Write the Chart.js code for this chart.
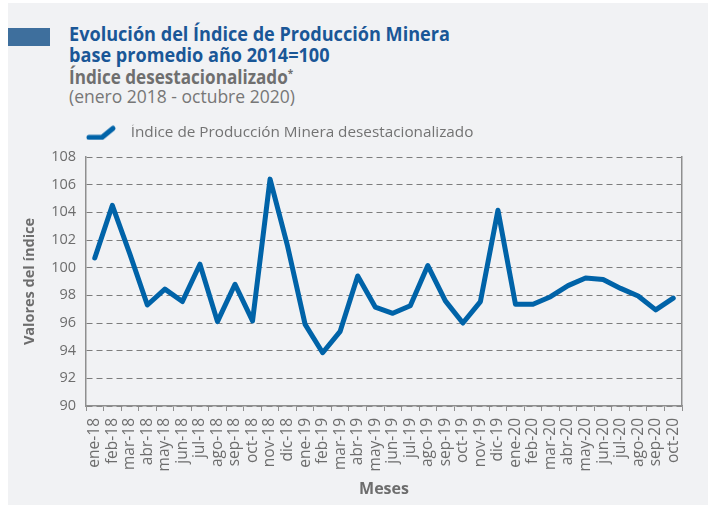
<!DOCTYPE html>
<html>
<head>
<meta charset="utf-8">
<title>Índice de Producción Minera</title>
<script src="https://cdn.jsdelivr.net/npm/chart.js"></script>
<style>
  body { margin: 0; background: #ffffff; }
  .panel { position: absolute; left: 8px; top: 3px; width: 700px; height: 502px; background: #f1f2f4; }
  .marca { position: absolute; left: 8px; top: 28px; width: 42px; height: 18px; background: #3e6f9d; }
  .linea { position: absolute; left: 69px; white-space: nowrap; transform-origin: left top; line-height: 1; font-family: "Open Sans", sans-serif; }
  .t1 { font-size: 20px; font-weight: 700; color: #1a5797; transform: scaleX(0.905); }
  .t3 { font-size: 19px; font-weight: 700; color: #6f6f6f; transform: scaleX(0.9); }
  .t3 sup { font-size: 11px; }
  .t4 { font-size: 17.5px; font-weight: 400; color: #777777; }
  #wrap { position: absolute; left: 0; top: 0; width: 708px; height: 506px; }
</style>
</head>
<body>
<div class="panel"></div>
<div class="marca"></div>
<div class="linea t1" style="top:24px">Evolución del Índice de Producción Minera</div>
<div class="linea t1" style="top:44.5px">base promedio año 2014=100</div>
<div class="linea t3" style="top:66.5px">Índice desestacionalizado<sup>*</sup></div>
<div class="linea t4" style="top:88px">(enero 2018 - octubre 2020)</div>
<div id="wrap"><canvas id="grafico" width="708" height="506"></canvas></div>
<script>
// datos
const meses = ['ene-18', 'feb-18', 'mar-18', 'abr-18', 'may-18', 'jun-18', 'jul-18', 'ago-18', 'sep-18', 'oct-18', 'nov-18', 'dic-18',
  'ene-19', 'feb-19', 'mar-19', 'abr-19', 'may-19', 'jun-19', 'jul-19', 'ago-19', 'sep-19', 'oct-19', 'nov-19', 'dic-19',
  'ene-20', 'feb-20', 'mar-20', 'abr-20', 'may-20', 'jun-20', 'jul-20', 'ago-20', 'sep-20', 'oct-20'];

const indiceDesest = [100.7, 104.5, 101.0, 97.3, 98.45, 97.55, 100.25, 96.1, 98.8, 96.15, 106.4, 101.55,
  95.9, 93.85, 95.4, 99.4, 97.15, 96.7, 97.25, 100.15, 97.6, 96.0, 97.55, 104.15,
  97.35, 97.35, 97.9, 98.7, 99.25, 99.15, 98.5, 97.95, 96.95, 97.8];

const ejeMin = 90;
const ejeMax = 108;
const ejePaso = 2;

const azul = '#0063a8';
const gris = '#6d6d6d';
const grisEje = '#8f8f8f';

// simbolo de la leyenda (linea quebrada)
const simbolo = document.createElement('canvas');
simbolo.width = 37;
simbolo.height = 16;
const sctx = simbolo.getContext('2d');
sctx.strokeStyle = azul;
sctx.lineWidth = 5;
sctx.lineCap = 'round';
sctx.lineJoin = 'round';
sctx.beginPath();
sctx.moveTo(3, 13);
sctx.lineTo(16, 13);
sctx.lineTo(27, 4);
sctx.stroke();

// sube la leyenda unos pixeles sobre el area del grafico
const moverLeyenda = {
  id: 'moverLeyenda',
  afterLayout(chart) {
    if (chart.legend) {
      chart.legend.top -= 7;
      chart.legend.bottom -= 7;
    }
  }
};

const fuente = '"Open Sans", sans-serif';

new Chart(document.getElementById('grafico'), {
  type: 'line',
  data: {
    labels: meses,
    datasets: [{
      label: 'Índice de Producción Minera desestacionalizado',
      data: indiceDesest,
      borderColor: azul,
      backgroundColor: azul,
      borderWidth: 5,
      borderJoinStyle: 'round',
      borderCapStyle: 'round',
      pointRadius: 0,
      tension: 0,
      fill: false,
      pointStyle: simbolo
    }]
  },
  plugins: [moverLeyenda],
  options: {
    responsive: false,
    animation: false,
    layout: { padding: { top: 131.7, right: 26, bottom: 0, left: 0 } },
    plugins: {
      legend: {
        position: 'top',
        align: 'start',
        fullSize: false,
        labels: {
          usePointStyle: true,
          pointStyleWidth: 37,
          padding: 0,
          color: '#737373',
          font: { family: fuente, size: 15.3 }
        }
      },
      tooltip: { enabled: false }
    },
    scales: {
      x: {
        offset: true,
        grid: { display: true, drawOnChartArea: false, drawTicks: true, tickLength: 5, color: grisEje, offset: true },
        border: { display: true, color: grisEje, width: 1.5 },
        ticks: { color: gris, font: { family: fuente, size: 15.5 }, minRotation: 90, maxRotation: 90, autoSkip: false, padding: 7 },
        title: { display: true, text: 'Meses', color: gris, font: { family: fuente, size: 16, weight: 'bold' }, padding: { top: 0, bottom: 7 } },
        afterFit(s) { s.height = 100; }
      },
      y: {
        min: ejeMin,
        max: ejeMax,
        grid: { color: '#7d7d7d', lineWidth: 1, drawTicks: false },
        border: { display: true, color: grisEje, width: 1.5, dash: [6, 4] },
        ticks: { stepSize: ejePaso, color: gris, font: { family: fuente, size: 14.5 }, padding: 10 },
        title: { display: true, text: 'Valores del índice', color: gris, font: { family: fuente, size: 14.5, weight: 'bold' }, padding: { top: 21, bottom: 0 } },
        afterFit(s) { s.width = 86; }
      },
      yDer: {
        position: 'right',
        min: ejeMin,
        max: ejeMax,
        grid: { display: false, drawTicks: false },
        border: { display: true, color: grisEje, width: 1.5 },
        ticks: { display: false }
      }
    }
  }
});
</script>
</body>
</html>
